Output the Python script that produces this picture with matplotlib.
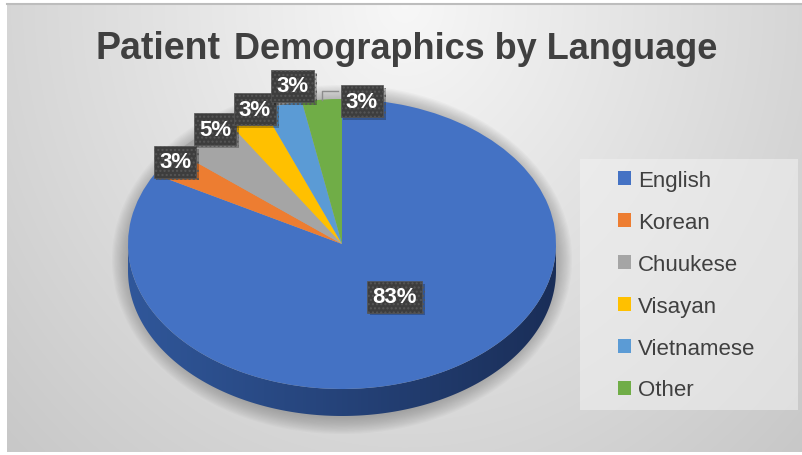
import numpy as np
import matplotlib.pyplot as plt
from matplotlib.patches import Rectangle, Polygon, Ellipse
import matplotlib.patheffects as pe

plt.rcParams['font.family'] = 'Liberation Sans'

# Data
languages = ['English', 'Korean', 'Chuukese', 'Visayan', 'Vietnamese', 'Other']
shares = [83, 3, 5, 3, 3, 3]
colors = ['#4472C4', '#ED7D31', '#A5A5A5', '#FFC000', '#5B9BD5', '#70AD47']

# label layout: distance from centre (in radii) and turn from the slice middle (deg)
label_r = [0.44, 0.964, 0.99, 1.016, 1.114, 0.99]
label_turn = [3.5, -1.8, -4.6, -3.4, -4.3, -10.8]

W, H = 803, 456
cx, cy, rx, ry = 342, 245, 214, 145   # pie ellipse in pixels
depth = 27 / ry                        # thickness of the 3d side
text_col = '#404040'


def to_data(px, py):
    return (px - cx) / rx, (cy - py) / ry


fig = plt.figure(figsize=(W / 100, H / 100), dpi=100)
fig.patch.set_facecolor('white')
ax = fig.add_axes([0, 0, 1, 1])
x0, y1 = to_data(0, 0)
x1, y0 = to_data(W, H)

# background gradient of the chart area
gl, gt = to_data(7, 5)
gr, gb = to_data(W, 453)
u = np.linspace(0, 1, 400)[None, :]
v = np.linspace(0, 1, 230)[:, None]
d = np.sqrt(((u - 0.5) / 0.55) ** 2 + (v / 1.1) ** 2)
val = np.clip(0.97 - 0.145 * d, 0, 1)
ax.imshow(np.dstack([val, val, val]), extent=(gl, gr, gb, gt), aspect='auto',
          zorder=0, interpolation='bilinear')
ax.plot([gl, gr], [gt, gt], color='#bdbdbd', lw=1.5, zorder=1)

# soft shadow under the pie
for e in np.linspace(16, 0, 14):
    ax.add_patch(Ellipse((0, -depth / 2 - 2 / ry), 2 + 2 * e / rx,
                         2 + depth + 2 * e / ry, facecolor='#6f6f6f',
                         edgecolor='none', alpha=0.045, zorder=2))

# pie top face
wedges, _ = ax.pie(shares, colors=colors, startangle=90, counterclock=False,
                   radius=1, wedgeprops=dict(linewidth=0, zorder=5))

# pie side (only the English slice shows at the front)
t = np.linspace(np.pi, 2 * np.pi, 300)
side = np.vstack([np.column_stack([np.cos(t), np.sin(t) - depth]),
                  np.column_stack([np.cos(t[::-1]), np.sin(t[::-1])])])
side_patch = Polygon(side, closed=True, facecolor='none', edgecolor='none', zorder=4)
ax.add_patch(side_patch)
c_left = np.array([0x30, 0x57, 0x9a]) / 255
c_right = np.array([0x1a, 0x2e, 0x58]) / 255
s = np.linspace(0, 1, 300)[None, :, None]
side_img = c_left * (1 - s) + c_right * s
side_img = np.repeat(side_img, 20, axis=0)
im = ax.imshow(side_img, extent=(-1, 1, -1 - depth, 0), aspect='auto',
               zorder=4, interpolation='bilinear')
im.set_clip_path(side_patch)

# data labels
fracs = np.array(shares) / sum(shares)
mids = 90 - 360 * (np.cumsum(fracs) - fracs / 2)
label_xy = []
for i, val_ in enumerate(shares):
    a = np.radians(mids[i] + label_turn[i])
    lx, ly = label_r[i] * np.cos(a), label_r[i] * np.sin(a)
    label_xy.append((lx, ly))
    txt = ax.text(lx, ly, f'{val_}%', ha='center', va='center', fontsize=16,
                  fontweight='bold', color='white', zorder=9,
                  bbox=dict(boxstyle='square,pad=0.24', facecolor='#3d3d3d',
                            edgecolor='#565656', linewidth=0.5, hatch='....'))
    txt.get_bbox_patch().set_path_effects(
        [pe.SimplePatchShadow(offset=(2, -2), shadow_rgbFace='black', alpha=0.25),
         pe.Normal()])

# leader line for "Other"
m = np.radians(mids[-1])
xe, ye = np.cos(m), np.sin(m)
lx, ly = label_xy[-1]
yb = ly + 10 / ry
xl = lx - 24 / rx
ax.plot([xe, xe, xl], [ye, yb, yb], color='#8c8c8c', lw=1, zorder=7)

ax.set_aspect('auto')
ax.set_xlim(x0, x1)
ax.set_ylim(y0, y1)
ax.axis('off')

# legend with its own light box
fig.patches.append(Rectangle((580 / W, 1 - 411 / H), 218 / W, 251 / H,
                             transform=fig.transFigure, facecolor='#f2f2f2',
                             edgecolor='none', alpha=0.55, zorder=1))
fig.legend(wedges, languages, loc='upper left',
           bbox_to_anchor=(618 / W, 1 - 171 / H), frameon=False, fontsize=16,
           labelcolor=text_col, handlelength=0.6, handleheight=0.6,
           handletextpad=0.3, labelspacing=0.94, borderpad=0, borderaxespad=0)

# title, "Patient" slightly bigger than the rest
t1 = fig.text(0, 0, 'Patient', fontsize=27, fontweight='bold', color=text_col,
              va='baseline')
t2 = fig.text(0, 0, ' Demographics by Language', fontsize=26,
              fontweight='bold', color=text_col, va='baseline')
fig.canvas.draw()
r = fig.canvas.get_renderer()
w1 = t1.get_window_extent(r).width
w2 = t2.get_window_extent(r).width
start = 405 - (w1 + w2) / 2
t1.set_position((start / W, 1 - 59 / H))
t2.set_position(((start + w1 + 3) / W, 1 - 59 / H))

fig.savefig('out.png', dpi=100)
